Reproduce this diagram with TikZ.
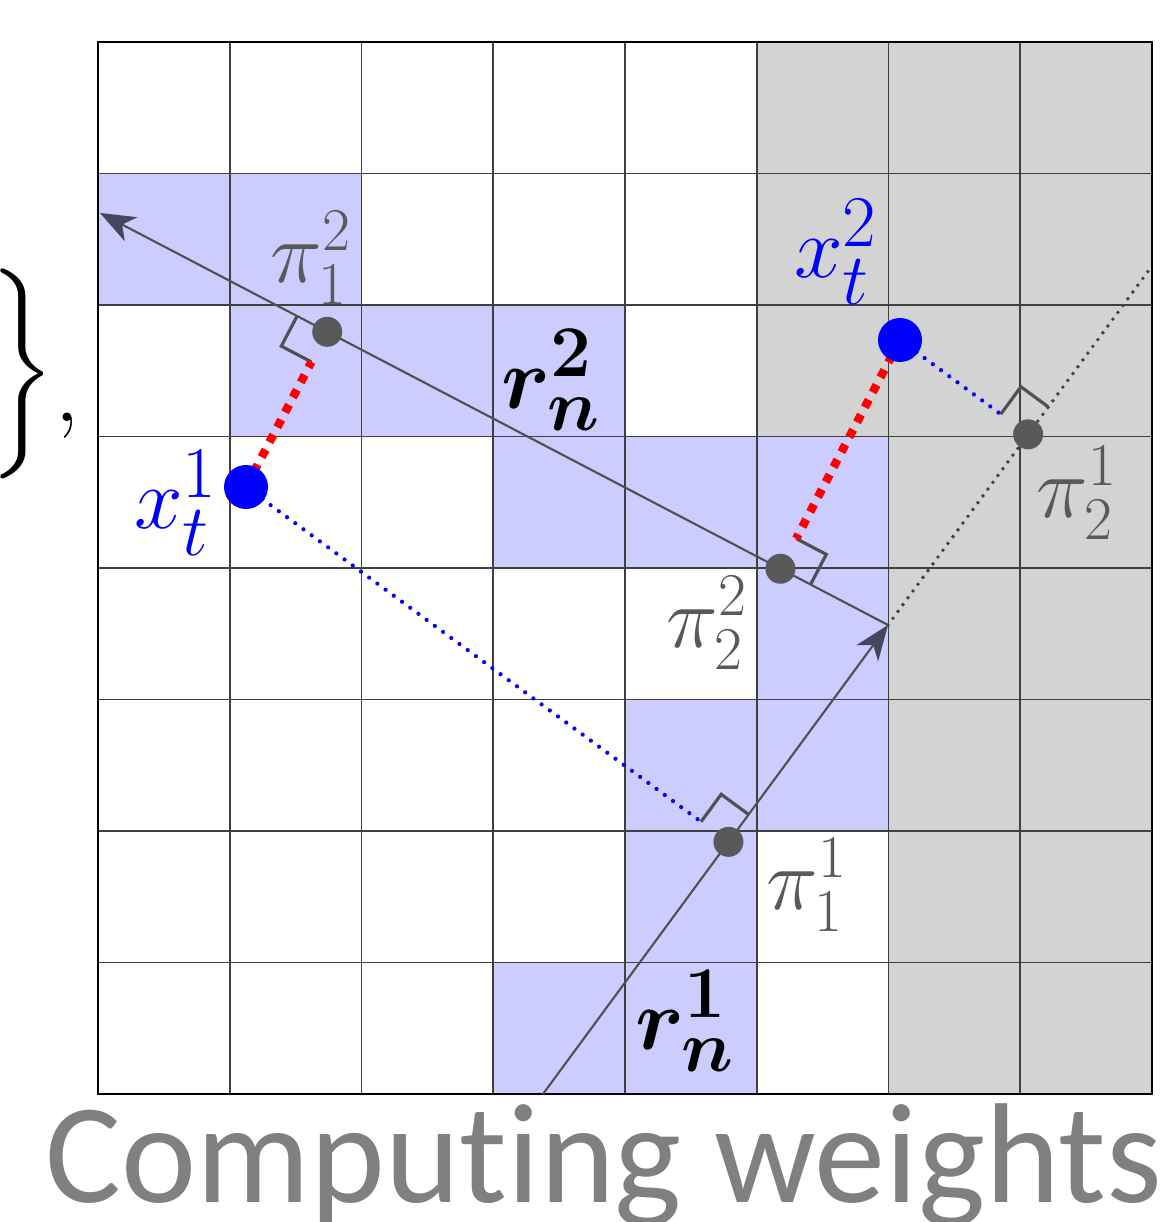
\documentclass[tikz,border=0pt]{standalone}
\usepackage{exscale}
\usepackage{fontspec}
\setmainfont{Carlito}[Ligatures={NoCommon,NoRare}, RawFeature={-liga,-clig,-calt,-dlig}]
\usepackage{bm}
\usetikzlibrary{arrows.meta,calc}

\definecolor{cellblue}{HTML}{CCCCFF}
\definecolor{cellgray}{HTML}{D3D3D3}
\definecolor{labelgray}{HTML}{595959}
\definecolor{raygray}{HTML}{505050}
\definecolor{tipgray}{HTML}{45455C}
\definecolor{titlegray}{HTML}{808080}

\begin{document}
\begin{tikzpicture}[x=1cm, y=-1cm,
bluecell/.style={fill=cellblue},
graycell/.style={fill=cellgray},
gridline/.style={draw=black!75, line width=0.5pt},
ray/.style={draw=raygray, line width=0.6pt},
arr/.style={-{Stealth[length=3.5mm, width=2.7mm, inset=1mm, color=tipgray, fill=tipgray]}},
anglemark/.style={draw=raygray, line width=0.9pt},
reddots/.style={draw=red, line width=2.4pt, dash pattern=on 2.4pt off 2.4pt},
bluedots/.style={draw=blue, line width=1.2pt, line cap=round, dash pattern=on 0pt off 2.9pt},
blackdots/.style={draw=black!75, line width=1.1pt, line cap=round, dash pattern=on 0pt off 2.4pt},
pointdot/.style={circle, fill=blue, minimum size=4.4mm, inner sep=0pt},
footdot/.style={circle, fill=labelgray, minimum size=3mm, inner sep=0pt},
pilabel/.style={text=labelgray, font=\fontsize{24}{28}\selectfont, inner sep=0pt},
xlabel/.style={text=blue, font=\fontsize{28}{32}\selectfont, inner sep=0pt},
rlabel/.style={text=black, font=\fontsize{29}{32}\selectfont, inner sep=0pt}
]
\useasboundingbox[fill=white] (0,0) rectangle (11.63,12.22);

% cells
\foreach \c/\r in {0/1,1/1,1/2,2/2,3/2,3/3,4/3,5/3,5/4,4/5,5/5,4/6,3/7,4/7}
  \fill[bluecell] ({0.98+1.3175*\c},{0.42+1.315*\r}) rectangle ++(1.3175,1.315);
\fill[graycell] (7.5675,0.42) rectangle (11.52,4.365);
\fill[graycell] (8.885,4.365) rectangle (11.52,10.94);

% grid
\foreach \k in {0,...,8} {
  \draw[gridline] ({0.98+1.3175*\k},0.42) -- ++(0,10.52);
  \draw[gridline] (0.98,{0.42+1.315*\k}) -- ++(10.54,0);
}
\draw[line width=0.8pt] (0.98,0.42) rectangle (11.52,10.94);

% rays and points
\coordinate (r1start) at (5.43,10.94);
\coordinate (meet) at (8.88,6.25);
\coordinate (r1end) at (11.49,2.70);
\coordinate (r2end) at (1.00,2.13);
\coordinate (x1) at (2.46,4.87);
\coordinate (x2) at (9.00,3.40);
\coordinate (p11) at ($(r1start)!(x1)!(r1end)$);
\coordinate (p21) at ($(r1start)!(x2)!(r1end)$);
\coordinate (p12) at ($(meet)!(x1)!(r2end)$);
\coordinate (p22) at ($(meet)!(x2)!(r2end)$);

\draw[blackdots] (meet) -- (r1end);
\draw[ray, arr] (r1start) -- (meet);
\draw[ray, arr] (meet) -- (r2end);

% right angles
\foreach \p/\l/\x in {p12/r2end/x1, p22/meet/x2, p11/r1end/x1, p21/r1end/x2} {
  \coordinate (\p a) at ($(\p)!0.34cm!(\l)$);
  \coordinate (\p b) at ($(\p)!0.34cm!(\x)$);
  \draw[anglemark] (\p a) -- ($(\p a)+(\p b)-(\p)$) -- (\p b);
}

\draw[reddots] (x1) -- (p12b);
\draw[reddots] (x2) -- (p22b);
\draw[bluedots] (x1) -- (p11b);
\draw[bluedots] (x2) -- (p21b);

\node[footdot] (dot12) at (p12) {};
\node[footdot] (dot22) at (p22) {};
\node[footdot] (dot11) at (p11) {};
\node[footdot] (dot21) at (p21) {};
\node[pointdot] (dotx1) at (x1) {};
\node[pointdot] (dotx2) at (x2) {};

% labels
\node[pilabel] (lab12) at (3.11,2.58) {$\pi_1^2$};
\node[pilabel] (lab22) at (7.07,6.23) {$\pi_2^2$};
\node[pilabel] (lab11) at (8.07,8.85) {$\pi_1^1$};
\node[pilabel] (lab21) at (10.77,4.93) {$\pi_2^1$};
\node[xlabel] (labx1) at (1.76,5.03) {$x_t^1$};
\node[xlabel] (labx2) at (8.36,2.52) {$x_t^2$};
\node[rlabel] (labr2) at (5.51,3.80) {$\bm{r}_{\bm{n}}^{\bm{2}}$};
\node[rlabel] (labr1) at (6.85,10.21) {$\bm{r}_{\bm{n}}^{\bm{1}}$};

\node[anchor=east, inner sep=0pt] (brace) at (0.80,3.76)
  {\fontsize{24}{26}\selectfont$\left.\vrule height 1.3cm depth 0.9cm width 0pt\right\}$\fontsize{46}{46}\selectfont\raisebox{-0.26cm}{$,$}};
\node[anchor=base west, inner sep=0pt, text=titlegray,
  font=\fontsize{40.5}{44}\selectfont] (caption) at (0.45,12.02) {Comput\kern0pt ing weights};
\end{tikzpicture}
\end{document}
